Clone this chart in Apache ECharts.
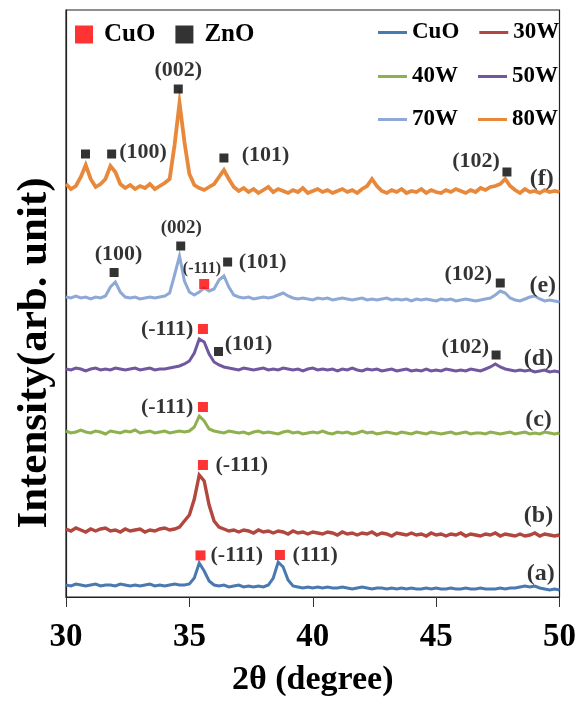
<!DOCTYPE html>
<html>
<head>
<meta charset="utf-8">
<script src="https://cdn.jsdelivr.net/npm/echarts@6/dist/echarts.min.js"></script>
<style>
html,body{margin:0;padding:0;background:#fff;}
#chart{width:579px;height:704px;}
</style>
</head>
<body>
<div id="chart"></div>
<script>
// 2θ grid (degree)
const twoTheta = [30.0,30.2,30.4,30.6,30.8,31.0,31.2,31.4,31.6,31.8,32.0,32.2,32.4,32.6,32.8,33.0,33.2,33.4,33.6,33.8,
34.0,34.2,34.4,34.6,34.8,35.0,35.2,35.4,35.6,35.8,36.0,36.2,36.4,36.6,36.8,37.0,37.2,37.4,37.6,37.8,
38.0,38.2,38.4,38.6,38.8,39.0,39.2,39.4,39.6,39.8,40.0,40.2,40.4,40.6,40.8,41.0,41.2,41.4,41.6,41.8,
42.0,42.2,42.4,42.6,42.8,43.0,43.2,43.4,43.6,43.8,44.0,44.2,44.4,44.6,44.8,45.0,45.2,45.4,45.6,45.8,
46.0,46.2,46.4,46.6,46.8,47.0,47.2,47.4,47.6,47.8,48.0,48.2,48.4,48.6,48.8,49.0,49.2,49.4,49.6,49.8,50.0];

const seriesNames = ['CuO','30W','40W','50W','70W','80W'];

// Intensities (arb. unit, vertically offset patterns as in the figure)
const intCuO = [12,11,13,12,11,12,13,11,12,12,11,13,12,11,12,11,12,13,11,12,11,12,13,12,12,
13,19,34,26,16,12,
11,12,10,11,12,10,11,10,11,10,12,19,35,30,17,11,
10,9,10,9,10,9,10,9,9,10,
9,8,9,10,9,8,9,9,8,9,
8,9,8,9,8,8,9,8,9,8,
8,9,8,8,9,8,8,9,8,8,
8,9,8,9,9,10,11,10,11,9,8,7,8,7];

const int30W = [68,66,69,67,65,68,66,68,69,66,67,65,68,66,67,68,65,67,66,68,69,67,68,70,76,
82,98,122,116,92,76,70,
68,66,67,65,67,66,64,67,65,66,
64,66,65,63,66,64,65,63,65,64,
63,65,64,62,65,63,64,62,64,63,
65,62,64,63,61,64,63,62,64,62,
63,61,64,62,63,61,63,62,64,61,
63,62,61,63,62,64,61,63,62,61,
63,61,62,64,61,63,62,61,62];

const int40W = [166,164,165,167,165,164,166,165,163,166,165,164,166,165,167,164,165,166,164,165,166,164,165,166,165,
166,170,181,176,168,166,
165,164,166,165,164,165,163,165,166,164,
165,164,163,165,166,164,165,163,164,165,
164,166,164,163,165,164,165,163,164,166,
164,165,163,164,165,164,163,165,164,163,
165,164,163,165,164,163,164,165,163,164,
165,163,164,164,163,165,164,163,164,165,
163,164,165,163,164,163,165,164,163,164];

const int50W = [228,227,229,228,226,228,229,227,228,227,229,228,227,228,229,227,228,229,227,228,228,229,230,231,233,
236,244,258,255,243,235,232,230,
229,228,227,229,228,227,228,229,227,228,
227,229,228,227,228,226,228,229,227,228,
227,228,226,228,227,229,227,226,228,227,
228,226,227,228,226,227,228,226,227,226,
228,226,227,226,228,227,226,227,226,228,
227,226,228,230,233,
230,228,227,226,227,
226,227,225,226,227,225,226,225];

const int70W = [300,299,301,299,300,298,300,299,301,
310,315,305,300,
299,300,298,299,300,299,300,301,
304,322,341,316,305,302,305,309,306,308,317,321,310,302,300,
299,300,298,299,300,299,300,
302,304,301,299,
298,299,298,297,299,298,299,297,298,299,
298,297,298,299,297,298,297,298,299,297,
298,297,298,296,298,297,298,297,296,298,
297,298,296,297,298,297,296,297,298,
299,302,306,304,299,
297,296,298,300,301,
298,296,297,296,295];

const int80W = [413,408,411,420,432,418,410,413,418,431,425,413,409,
412,408,411,409,413,408,411,414,
418,452,494,455,423,412,409,407,410,413,420,427,418,410,406,
409,405,408,404,407,410,405,408,406,404,
407,405,409,404,406,408,405,407,404,406,
408,405,407,404,408,411,
418,411,406,
404,407,405,408,404,406,405,408,404,407,
405,404,407,405,408,406,404,407,405,409,
407,410,
411,413,418,411,
407,404,408,405,406,404,407,405,406,405];

const allIntensities = [intCuO,int30W,int40W,int50W,int70W,int80W];
const lineColors = ['#4a78b0','#b2473f','#8fb04e','#7057a0','#8ea9d6','#e8883a'];
const lineWidths = [3,3.4,3,3,3,3.8];

// Peak markers [2θ, intensity]
const cuoPeaks = [[35.6,313],[35.55,268],[35.55,190],[35.55,132],[35.45,41.6],[38.67,42]];
const znoPeaks = [[30.79,443],[31.85,443],[34.55,508],[36.4,439],[47.87,425],
                  [31.95,324.5],[34.65,351],[36.55,335],[47.6,314],
                  [36.18,245.5],[47.43,242]];

// Peak / pattern labels [2θ, intensity, text, size]
const peakLabels = [
  [33.12,445,'(100)',22],[34.55,527,'(002)',22],[38.09,442,'(101)',22],[46.62,436,'(102)',22],[49.28,418,'(f)',24],
  [32.13,343,'(100)',22],[34.67,369,'(002)',19],[35.51,328,'(-111)',16],[37.97,335,'(101)',22],[46.30,323,'(102)',22],[49.32,311,'(e)',24],
  [34.10,268,'(-111)',22],[37.40,253,'(101)',22],[46.18,250,'(102)',22],[49.15,238,'(d)',24],
  [34.10,190,'(-111)',22],[49.15,177,'(c)',24],
  [37.12,132,'(-111)',22],[49.15,81,'(b)',24],
  [36.92,42,'(-111)',22],[40.10,42,'(111)',22],[49.24,23,'(a)',24]
];

const xTicks = [30,35,40,45,50];

const SERIF = '"Liberation Serif","Times New Roman",serif';

const lineSeries = seriesNames.map((n,k)=>({
  name:n, type:'line', showSymbol:false, symbol:'none',
  data: twoTheta.map((t,i)=>[t, allIntensities[k][i]]),
  lineStyle:{width:lineWidths[k], color:lineColors[k], join:'miter'},
  itemStyle:{color:lineColors[k]},
  z:2+k, silent:true
}));

const chart = echarts.init(document.getElementById('chart'));
const legendText = {fontFamily:SERIF, fontWeight:'bold', color:'#000'};
chart.setOption({
  animation:false,
  backgroundColor:'#fff',
  grid:{left:66,right:16,top:10,bottom:107,show:true,borderColor:'#222',borderWidth:1.2,backgroundColor:'transparent'},
  xAxis:{
    type:'value', min:30, max:50, interval:5,
    axisLine:{show:true,lineStyle:{color:'#222',width:1.2}},
    axisTick:{show:true,inside:false,length:10,lineStyle:{color:'#333',width:1}},
    splitLine:{show:false},
    axisLabel:{fontFamily:SERIF,fontWeight:'bold',fontSize:33,color:'#000',margin:24,
      formatter:v=> xTicks.includes(v)? String(v):''},
    name:'2θ (degree)', nameLocation:'middle', nameGap:66,
    nameTextStyle:{fontFamily:SERIF,fontWeight:'bold',fontSize:34,color:'#000'}
  },
  yAxis:{
    type:'value', min:0, max:587,
    axisLine:{show:true,lineStyle:{color:'#222',width:1.2}},
    axisTick:{show:false}, axisLabel:{show:false}, splitLine:{show:false}
  },
  legend:[
    {left:70,top:17,itemWidth:18,itemHeight:18,itemGap:20,icon:'rect',
     data:['CuO peak','ZnO peak'],
     formatter:n=> n==='CuO peak'?'CuO':'ZnO',
     textStyle:Object.assign({fontSize:25,padding:[0,0,0,6]},legendText)},
    {left:373,top:16,itemWidth:29,itemHeight:3,itemGap:20,icon:'rect',data:['CuO','30W'],
     textStyle:Object.assign({fontSize:23,width:48},legendText)},
    {left:373,top:60,itemWidth:29,itemHeight:3,itemGap:20,icon:'rect',data:['40W','50W'],
     textStyle:Object.assign({fontSize:23,width:48},legendText)},
    {left:373,top:103,itemWidth:29,itemHeight:3,itemGap:20,icon:'rect',data:['70W','80W'],
     textStyle:Object.assign({fontSize:23,width:48},legendText)}
  ],
  graphic:[{
    type:'text', x:35, y:353, rotation:Math.PI/2,
    style:{text:'Intensity(arb. unit)', font:'bold 43px "Liberation Serif", serif', fill:'#000',
      align:'center', verticalAlign:'middle'}
  }],
  series: lineSeries.concat([
    {name:'CuO peak', type:'scatter', symbol:'rect', symbolSize:10, data:cuoPeaks,
     itemStyle:{color:'#ff0000'}, z:20, silent:true},
    {name:'ZnO peak', type:'scatter', symbol:'rect', symbolSize:9, data:znoPeaks,
     itemStyle:{color:'#000'}, z:20, silent:true},
    {name:'labels', type:'scatter', symbolSize:0, silent:true, z:21,
     data: peakLabels.map(p=>({value:[p[0],p[1]], name:p[2],
        label:{show:true, position:'inside', formatter:p[2], fontSize:p[3],
               fontFamily:SERIF, fontWeight:'bold', color:'#000'}}))}
  ])
});
</script>
</body>
</html>
